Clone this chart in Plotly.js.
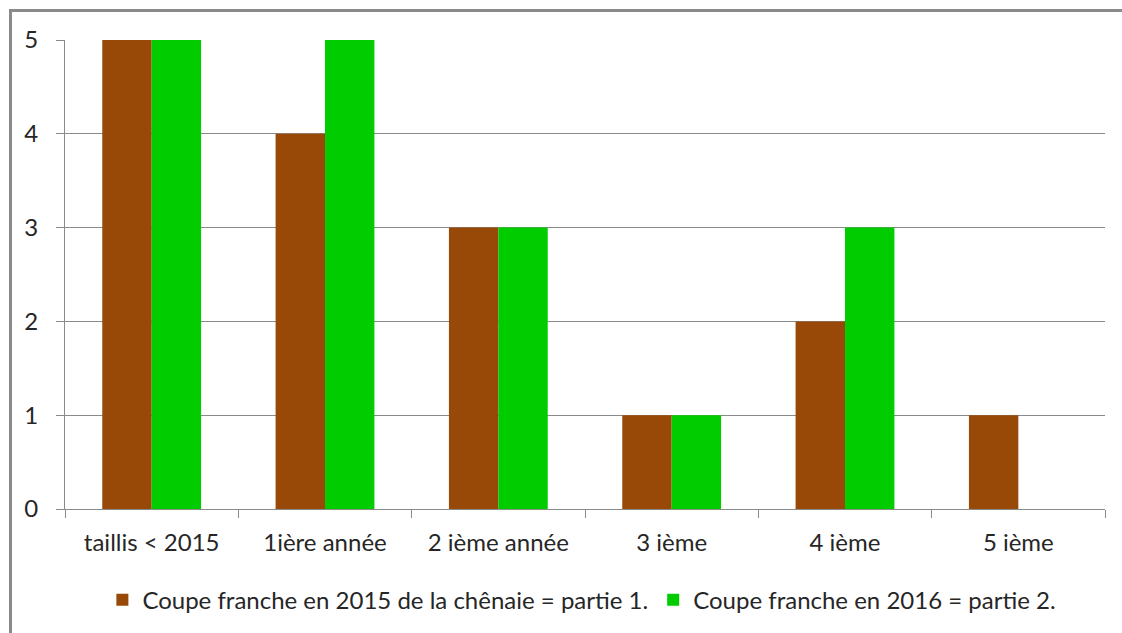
<!DOCTYPE html>
<html>
<head>
<meta charset="utf-8">
<script src="https://cdn.plot.ly/plotly-3.0.1.min.js"></script>
<style>
html,body{margin:0;padding:0;background:#fff;}
#wrap{position:relative;width:1122px;height:633px;overflow:hidden;}
#chart{position:absolute;left:0;top:0;width:1122px;height:633px;}
#frameTop{position:absolute;left:9px;top:9px;width:1200px;height:0;border-top:3px solid #8a8a8a;}
#frameLeft{position:absolute;left:9px;top:9px;width:0;height:700px;border-left:3px solid #8a8a8a;}
</style>
</head>
<body>
<div id="wrap">
<div id="chart"></div>
<div id="frameTop"></div>
<div id="frameLeft"></div>
</div>
<script>
const categories = ["taillis < 2015", "1ière année", "2 ième année", "3 ième", "4 ième", "5 ième"];
const series2015 = [5, 4, 3, 1, 2, 1];
const series2016 = [5, 5, 3, 1, 3, 0];
const name2015 = "Coupe franche en 2015 de la chênaie = partie 1.";
const name2016 = "Coupe franche en 2016 = partie 2.";
const yTicks = [0, 1, 2, 3, 4, 5];

const fontFam = "Lato, 'Open Sans', sans-serif";
const txt = {family: fontFam, size: 24, color: "#262626"};
const data = [
  {type: "bar", x: categories, y: series2015, name: name2015, marker: {color: "#984807"}},
  {type: "bar", x: categories, y: series2016, name: name2016, marker: {color: "#00CC00"}}
];
const layout = {
  width: 1122, height: 633,
  margin: {l: 65, r: 17, t: 40, b: 123},
  paper_bgcolor: "rgba(0,0,0,0)",
  plot_bgcolor: "#ffffff",
  barmode: "group",
  bargap: 0.43,
  bargroupgap: 0,
  font: txt,
  showlegend: true,
  legend: {orientation: "h", x: 0.497, xanchor: "center", y: -0.192, yanchor: "middle",
           font: txt, itemwidth: 30, traceorder: "normal"},
  xaxis: {
    type: "category", automargin: false,
    showline: true, linecolor: "#8a8a8a", linewidth: 1,
    ticks: "outside", tickson: "boundaries", ticklen: 8, tickcolor: "#8a8a8a",
    ticklabelstandoff: 12,
    showgrid: false, zeroline: false,
    tickfont: txt
  },
  yaxis: {
    range: [0, 5], tickvals: yTicks, automargin: false,
    showline: true, linecolor: "#8a8a8a", linewidth: 1,
    ticks: "outside", ticklen: 8, tickcolor: "#8a8a8a",
    ticklabelstandoff: 13,
    showgrid: true, gridcolor: "#8a8a8a", gridwidth: 1,
    zeroline: false,
    tickfont: txt
  }
};
Plotly.newPlot("chart", data, layout, {displayModeBar: false, staticPlot: true});
</script>
</body>
</html>
